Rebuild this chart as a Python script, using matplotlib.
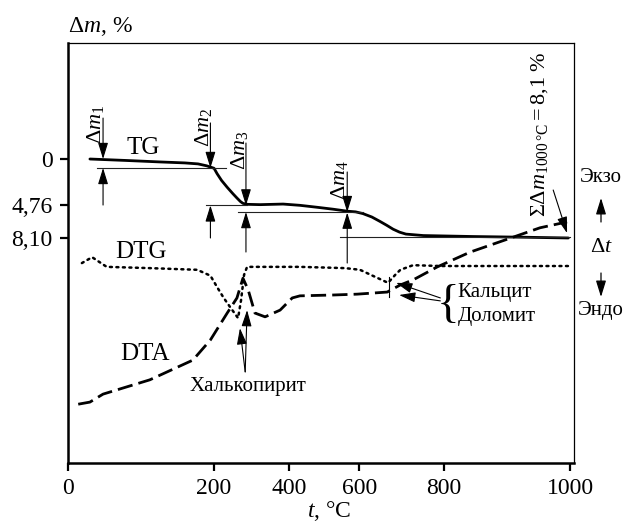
import numpy as np
import matplotlib
matplotlib.use('Agg')
import matplotlib.pyplot as plt

plt.rcParams['font.family'] = ['Liberation Serif', 'DejaVu Serif']
plt.rcParams['mathtext.fontset'] = 'custom'
plt.rcParams['mathtext.rm'] = 'Liberation Serif'
plt.rcParams['mathtext.it'] = 'Liberation Serif:italic'
plt.rcParams['mathtext.bf'] = 'Liberation Serif:bold'

# ---- nonuniform temperature axis as printed (calibration) ----
scale_T = [0, 200, 400, 600, 800, 1000, 1200]
scale_pos = [0, 146, 221, 291, 376, 502, 628]

# ---- data ----
x_ticks = [0, 200, 400, 600, 800, 1000]
x_labels = ['0', '200', '400', '600', '800', '1000']
y_ticks = [0, 4.76, 8.10]
y_labels = ['0', '4,76', '8,10']

tg_T = [30, 80, 126, 160, 178, 190, 200, 208, 220, 235, 250, 261, 270, 277, 290, 323, 384, 431, 480, 526, 566, 590, 609, 630, 649, 665, 680, 695, 710, 751, 846, 925, 997]
tg_dm = [0.0, 0.15, 0.3, 0.4, 0.5, 0.7, 0.95, 1.5, 2.2, 2.9, 3.55, 4.0, 4.35, 4.55, 4.65, 4.68, 4.62, 4.75, 4.95, 5.15, 5.35, 5.42, 5.6, 5.95, 6.4, 6.8, 7.2, 7.5, 7.7, 7.85, 7.95, 8.02, 8.1]

dtg_T = [19, 33, 53, 112, 177, 195, 208, 225, 243, 264, 272, 280, 288, 431, 560, 602, 638, 668, 685, 697, 727, 791, 889, 997]
dtg_v = [47.6, 49.0, 46.7, 46.4, 46.0, 44.6, 41.9, 39.4, 37.1, 34.5, 38.8, 44.8, 46.7, 46.7, 46.4, 46.0, 44.3, 42.9, 44.8, 46.0, 47.1, 46.9, 46.9, 46.9]

dta_T = [14, 30, 48, 112, 171, 195, 235, 261, 277, 291, 309, 336, 376, 409, 431, 526, 594, 666, 697, 727, 784, 841, 910, 952, 995]
dta_v = [14.0, 14.5, 16.4, 19.8, 24.5, 29.3, 35.7, 39.3, 44.0, 41.2, 35.7, 34.8, 36.4, 39.3, 39.8, 40.0, 40.2, 40.7, 42.4, 43.6, 46.7, 50.2, 53.8, 56.0, 57.4]

# mass-loss steps
step_T = [48, 195, 285, 566]
step_names = [r'$\Delta m_1$', r'$\Delta m_2$', r'$\Delta m_3$', r'$\Delta m_4$']
down_tail = [-4.2, -3.7, -1.64, 1.33]
down_tip = [0.0, 0.92, 4.76, 5.44]
up_tail = [4.72, 8.10, 9.54, 10.67]
up_tip = [0.92, 4.76, 5.44, 5.5]
label_T = [37, 186, 269, 543]
label_dm = [-3.6, -3.2, -0.9, 2.15]

level_dm = [0.92, 4.76, 5.44, 8.0]
level_T0 = [40, 189, 264, 546]
level_T1 = [232, 288, 609, 1000]


def fwd(t):
    return np.interp(t, scale_T, scale_pos)


def inv(p):
    return np.interp(p, scale_pos, scale_T)


fig = plt.figure(figsize=(6.24, 5.24), dpi=100)
ax = fig.add_axes([68 / 624, (524 - 463) / 524, (574 - 68) / 624, (463 - 43) / 524])
ax.set_xscale('function', functions=(fwd, inv))
ax.set_xlim(0, 1006)
ax.set_ylim(31.18, -11.9)

ax2 = ax.twinx()
ax2.set_ylim(0, 100)
ax2.axis('off')

for s in ['left', 'bottom']:
    ax.spines[s].set_linewidth(1.8)
for s in ['top', 'right']:
    ax.spines[s].set_linewidth(0.9)

ax.set_xticks(x_ticks)
ax.set_xticklabels(x_labels)
ax.set_yticks(y_ticks)
ax.set_yticklabels(y_labels)
ax.tick_params(axis='both', direction='out', length=6, width=1.6, labelsize=17, pad=5)
ax.xaxis.set_minor_locator(plt.NullLocator())
ax.yaxis.set_minor_locator(plt.NullLocator())

# curves
ax.plot(tg_T, tg_dm, color='k', lw=2.0, solid_capstyle='round', solid_joinstyle='round')
ax2.plot(dtg_T, dtg_v, color='k', lw=1.8, linestyle=(0, (0.8, 1.8)), dash_capstyle='round')
ax2.plot(dta_T, dta_v, color='k', lw=2.0, linestyle=(0, (5.5, 2.2)))

# level lines
for lv, t0, t1 in zip(level_dm, level_T0, level_T1):
    ax.plot([t0, t1], [lv, lv], color='#222222', lw=0.8)

aprops = dict(arrowstyle='-|>,head_length=0.55,head_width=0.17', color='k', lw=0.8,
              shrinkA=0, shrinkB=0, mutation_scale=18)

for t, dt, dp, ut, up, nm, lt, ld in zip(step_T, down_tail, down_tip, up_tail, up_tip,
                                          step_names, label_T, label_dm):
    ax.annotate('', xy=(t, dp), xytext=(t, dt), arrowprops=aprops)
    ax.annotate('', xy=(t, up), xytext=(t, ut), arrowprops=aprops)
    ax.text(lt, ld, nm, rotation=90, ha='center', va='center', fontsize=16)

# curve labels
ax.text(103, -1.13, 'TG', ha='center', va='center', fontsize=18)
ax2.text(100, 50.2, 'DTG', ha='center', va='center', fontsize=18)
ax2.text(105, 26.0, 'DTA', ha='center', va='center', fontsize=18)

# total mass loss
ax.text(951, -2.56, r'$\Sigma\Delta m_{1000\,\mathrm{°C}} = 8{,}1$ %', rotation=90,
        ha='center', va='center', fontsize=16)
ax.annotate('', xy=(995, 7.6), xytext=(973, 3.18), arrowprops=aprops)

# chalcopyrite
ax2.text(291, 18.3, 'Халькопирит', ha='center', va='center', fontsize=15)
ax2.annotate('', xy=(269, 32.1), xytext=(283, 21.7), arrowprops=aprops)
ax2.annotate('', xy=(288, 36.4), xytext=(283, 21.7), arrowprops=aprops)

# calcite / dolomite
ax2.annotate('', xy=(687, 42.9), xytext=(791, 39.3), arrowprops=aprops)
ax2.annotate('', xy=(694, 40.0), xytext=(791, 38.6), arrowprops=aprops)
ax2.plot([671, 671], [39.5, 44.3], color='k', lw=0.8)
ax2.text(806, 37.4, '{', ha='center', va='center', fontsize=34, fontweight='light')
ax2.text(821, 40.5, 'Кальцит', ha='left', va='center', fontsize=15)
ax2.text(821, 34.8, 'Доломит', ha='left', va='center', fontsize=15)

# axis titles
ax.text(0.0, 1 + 16 / 420, r'$\Delta m$, %', transform=ax.transAxes, ha='left', va='center', fontsize=17)
ax.text((329 - 68) / 506, -(511 - 463) / 420, r'$t$, °C', transform=ax.transAxes,
        ha='center', va='center', fontsize=17)

# right-side legend of DTA direction
fx = 601 / 624
fig.text(fx, 1 - 177 / 524, 'Экзо', ha='center', va='center', fontsize=15)
fig.text(fx, 1 - 247 / 524, r'$\Delta t$', ha='center', va='center', fontsize=16)
fig.text(fx, 1 - 311 / 524, 'Эндо', ha='center', va='center', fontsize=15)
fig_ap = dict(arrowstyle='-|>,head_length=0.55,head_width=0.17', color='k', lw=0.9,
              shrinkA=0, shrinkB=0, mutation_scale=18)
ax.annotate('', xy=(fx, 1 - 198 / 524), xytext=(fx, 1 - 222 / 524),
            xycoords='figure fraction', textcoords='figure fraction', arrowprops=fig_ap)
ax.annotate('', xy=(fx, 1 - 297 / 524), xytext=(fx, 1 - 273 / 524),
            xycoords='figure fraction', textcoords='figure fraction', arrowprops=fig_ap)

fig.savefig('out.png', dpi=100)
